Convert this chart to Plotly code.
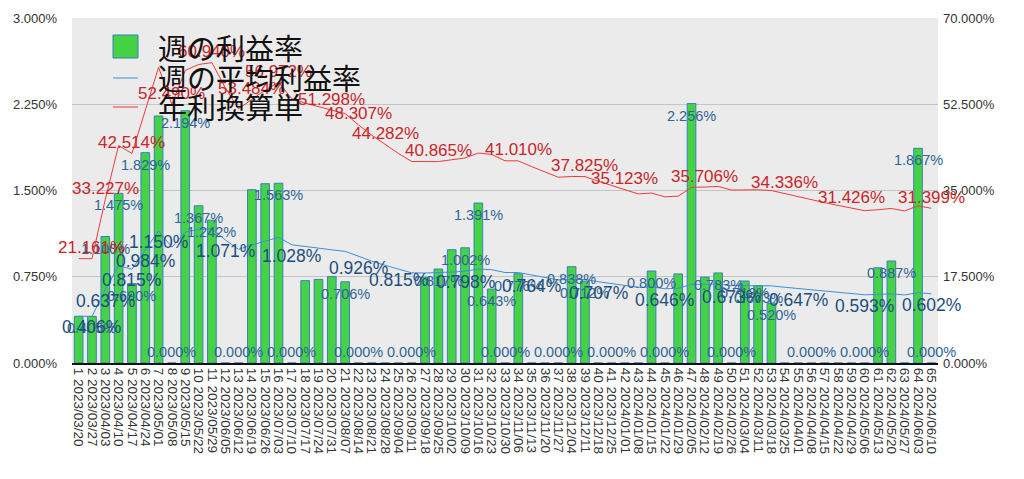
import plotly.graph_objects as go

# ---------------- data ----------------
dates = ["2023/03/20", "2023/03/27", "2023/04/03", "2023/04/10", "2023/04/17", "2023/04/24",
         "2023/05/01", "2023/05/08", "2023/05/15", "2023/05/22", "2023/05/29", "2023/06/05",
         "2023/06/12", "2023/06/19", "2023/06/26", "2023/07/03", "2023/07/10", "2023/07/17",
         "2023/07/24", "2023/07/31", "2023/08/07", "2023/08/14", "2023/08/21", "2023/08/28",
         "2023/09/04", "2023/09/11", "2023/09/18", "2023/09/25", "2023/10/02", "2023/10/09",
         "2023/10/16", "2023/10/23", "2023/10/30", "2023/11/06", "2023/11/13", "2023/11/20",
         "2023/11/27", "2023/12/04", "2023/12/11", "2023/12/18", "2023/12/25", "2024/01/01",
         "2024/01/08", "2024/01/15", "2024/01/22", "2024/01/29", "2024/02/05", "2024/02/12",
         "2024/02/19", "2024/02/26", "2024/03/04", "2024/03/11", "2024/03/18", "2024/03/25",
         "2024/04/01", "2024/04/08", "2024/04/15", "2024/04/22", "2024/04/29", "2024/05/06",
         "2024/05/13", "2024/05/20", "2024/05/27", "2024/06/03", "2024/06/10"]

weekly_return = [0.406, 0.405, 1.100, 1.475, 0.690, 1.829, 2.148, 0.000, 2.194, 1.367,
                 1.242, 0.000, 0.000, 1.507, 1.559, 1.563, 0.000, 0.716, 0.727, 0.751,
                 0.706, 0.000, 0.000, 0.000, 0.000, 0.000, 0.746, 0.817, 0.985, 1.002,
                 1.391, 0.643, 0.000, 0.776, 0.000, 0.000, 0.000, 0.838, 0.712, 0.000,
                 0.000, 0.000, 0.000, 0.800, 0.000, 0.775, 2.256, 0.747, 0.783, 0.000,
                 0.713, 0.673, 0.520, 0.000, 0.000, 0.000, 0.000, 0.000, 0.000, 0.000,
                 0.828, 0.887, 0.000, 1.867, 0.000]

weekly_avg = [0.4060, 0.4056, 0.637, 0.8465, 0.815, 0.984, 1.150, 1.0066, 1.1386, 1.1614,
              1.1687, 1.071, 0.9889, 1.0259, 1.0615, 1.0928, 1.028, 1.0112, 0.9962, 0.9840,
              0.9707, 0.926, 0.8863, 0.8494, 0.815, 0.7840, 0.7826, 0.7839, 0.7908, 0.798,
              0.8170, 0.8115, 0.7869, 0.7866, 0.764, 0.7429, 0.7228, 0.7259, 0.7255, 0.707,
              0.6901, 0.6737, 0.6580, 0.6613, 0.646, 0.6493, 0.6835, 0.6849, 0.6869, 0.673,
              0.6739, 0.6739, 0.6710, 0.6586, 0.647, 0.6350, 0.6239, 0.6131, 0.6027, 0.593,
              0.5966, 0.6012, 0.5917, 0.6116, 0.602]

annual_rate = [21.170, 21.161, 33.227, 44.139, 42.514, 51.319, 59.985, 52.490, 59.370, 60.559,
               60.940, 55.862, 51.564, 53.484, 55.350, 56.972, 53.600, 52.727, 51.944, 51.298,
               50.614, 48.307, 46.214, 44.282, 42.517, 40.882, 40.807, 40.865, 41.234, 41.599,
               42.600, 42.313, 41.031, 41.010, 39.841, 38.735, 37.688, 37.850, 37.825, 36.884,
               35.985, 35.123, 34.310, 34.481, 33.715, 33.857, 35.640, 35.706, 35.816, 35.098,
               35.139, 35.140, 34.988, 34.336, 33.712, 33.110, 32.532, 31.971, 31.426, 30.903,
               31.107, 31.350, 30.855, 31.891, 31.399]

# weeks (1-based) that carry a visible data label
bar_label_weeks = [2, 3, 4, 5, 6, 8, 9, 10, 11, 13, 16, 17, 21, 22, 26, 28, 30, 31, 32, 33, 34,
                   37, 38, 39, 41, 44, 45, 47, 49, 50, 51, 52, 53, 56, 60, 62, 64, 65]
avg_label_weeks = [2, 3, 5, 6, 7, 12, 17, 22, 25, 30, 35, 40, 45, 50, 55, 60, 65]
annual_label_weeks = [2, 3, 5, 8, 11, 14, 16, 20, 22, 24, 28, 34, 39, 42, 48, 54, 59, 65]

left_ticks = [0, 0.75, 1.5, 2.25, 3.0]
right_ticks = [0, 17.5, 35, 52.5, 70]

legend_names = ["週の利益率", "週の平均利益率", "年利換算単"]

# ---------------- figure ----------------
cats = [f"{i + 1} {d}" for i, d in enumerate(dates)]
FONT = "Liberation Sans, Arial, sans-serif"
GREEN, BORDER, BLUE, RED = "#45d345", "#3a7fbf", "#3d8fd8", "#f03a3a"

fig = go.Figure()

fig.add_trace(go.Bar(
    x=cats, y=weekly_return, yaxis="y",
    marker=dict(color=GREEN, line=dict(color=BORDER, width=1)),
    hoverinfo="skip", showlegend=False,
))
fig.add_trace(go.Scatter(
    x=cats, y=weekly_avg, yaxis="y", mode="lines",
    line=dict(color=BLUE, width=1), hoverinfo="skip", showlegend=False,
))
fig.add_trace(go.Scatter(
    x=cats, y=annual_rate, yaxis="y2", mode="lines",
    line=dict(color=RED, width=1), hoverinfo="skip", showlegend=False,
))

annotations = []
# bar labels
for w in bar_label_weeks:
    v = weekly_return[w - 1]
    annotations.append(dict(
        x=cats[w - 1], y=v, xref="x", yref="y", text=f"{v:.3f}%", showarrow=False,
        xanchor="center", yanchor="middle", yshift=(-12 if v > 0 else 11),
        font=dict(family=FONT, size=14.5, color="#2f6593"),
    ))
# weekly average labels
for w in avg_label_weeks:
    v = weekly_avg[w - 1]
    annotations.append(dict(
        x=cats[w - 1], y=v, xref="x", yref="y", text=f"{v:.3f}%", showarrow=False,
        xanchor="center", yanchor="middle", yshift=-11,
        font=dict(family=FONT, size=17.5, color="#1d4f7c"),
    ))
# annualised labels
for w in annual_label_weeks:
    v = annual_rate[w - 1]
    annotations.append(dict(
        x=cats[w - 1], y=v, xref="x", yref="y2", text=f"{v:.3f}%", showarrow=False,
        xanchor="center", yanchor="middle", yshift=11,
        font=dict(family=FONT, size=17, color="#c8262a"),
    ))

# ---------------- manual legend ----------------
L, R, T, B = 72, 938, 18, 363
W, H = R - L, B - T
px = lambda x: (x - L) / W
py = lambda y: (B - y) / H

shapes = [
    dict(type="rect", xref="paper", yref="paper", x0=px(113), x1=px(138), y0=py(58), y1=py(35),
         fillcolor=GREEN, line=dict(color=BORDER, width=1)),
    dict(type="line", xref="paper", yref="paper", x0=px(113), x1=px(138), y0=py(78), y1=py(78),
         line=dict(color=BLUE, width=1)),
    dict(type="line", xref="paper", yref="paper", x0=px(113), x1=px(138), y0=py(107), y1=py(107),
         line=dict(color=RED, width=1)),
]
for name, yy in zip(legend_names, [47, 77, 106]):
    annotations.append(dict(
        text=name, xref="paper", yref="paper", x=px(156), y=py(yy),
        xanchor="left", yanchor="middle", showarrow=False,
        font=dict(family="Noto Sans CJK JP", size=29, color="#111111"),
    ))

fig.update_layout(
    width=1024, height=479,
    margin=dict(l=L, r=1024 - R, t=T, b=479 - B),
    paper_bgcolor="white", plot_bgcolor="#ebebeb",
    bargap=0.35,
    font=dict(family=FONT, size=13, color="#333333"),
    shapes=shapes, annotations=annotations,
    xaxis=dict(
        type="category", tickangle=90, tickmode="array", tickvals=cats, ticktext=cats,
        tickfont=dict(size=13.5, color="#333333"),
        showgrid=False, showline=True, linecolor="#111111", linewidth=2,
        ticks="", range=[-0.5, len(cats) - 0.5],
    ),
    yaxis=dict(
        range=[0, 3], tickmode="array", tickvals=left_ticks,
        ticktext=[f"{t:.3f}%" for t in left_ticks], ticklabelstandoff=14,
        showgrid=True, gridcolor="#c4c4c4", gridwidth=1, zeroline=False,
        tickfont=dict(size=13, color="#333333"),
    ),
    yaxis2=dict(
        range=[0, 70], tickmode="array", tickvals=right_ticks,
        ticktext=[f"{t:.3f}%" for t in right_ticks], ticklabelstandoff=4,
        overlaying="y", side="right", showgrid=False, zeroline=False,
        tickfont=dict(size=13, color="#333333"),
    ),
)

fig.write_html("out.html")
